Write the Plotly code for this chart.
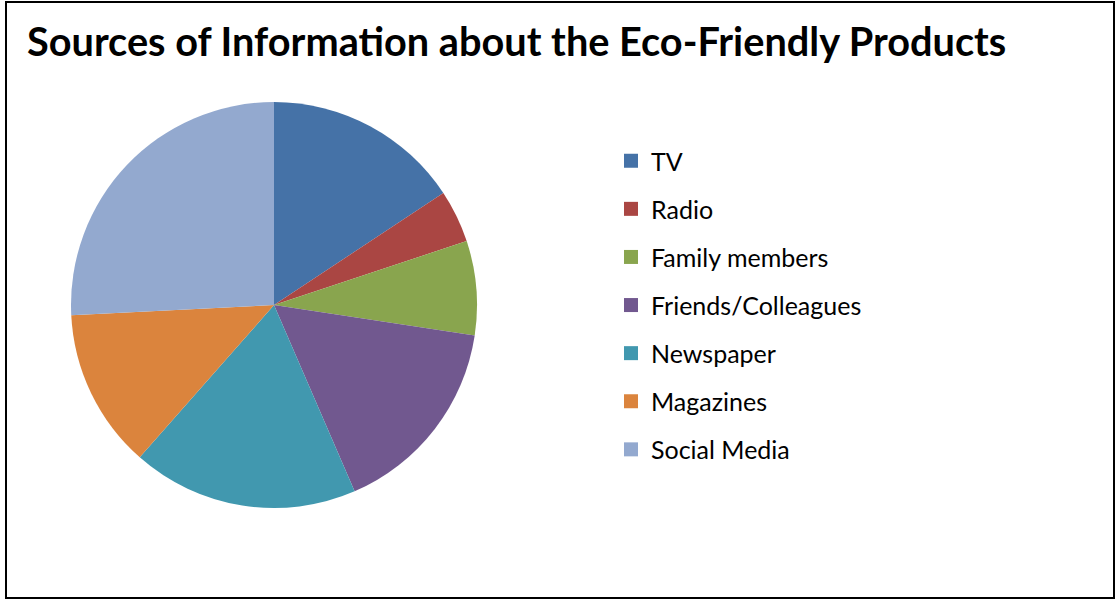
import plotly.graph_objects as go

categories = ["TV", "Radio", "Family members", "Friends/Colleagues", "Newspaper", "Magazines", "Social Media"]
values = [15.7, 4.2, 7.5, 16.1, 18.0, 12.7, 25.8]
colors = ["#4572A7", "#AA4643", "#89A54E", "#71588F", "#4198AF", "#DB843D", "#93A9CF"]
title = "Sources of Information about the Eco-Friendly Products"

W, H = 1117, 599
cx, cy, r = 274, 305, 203

fig = go.Figure()
fig.add_trace(go.Pie(
    labels=categories, values=values, sort=False, direction="clockwise", rotation=0,
    marker=dict(colors=colors, line=dict(width=0)),
    textinfo="none", hoverinfo="label+value", showlegend=False,
    domain=dict(x=[(cx - r) / W, (cx + r) / W], y=[(H - cy - r) / H, (H - cy + r) / H]),
))
for c, col in zip(categories, colors):
    fig.add_trace(go.Scatter(x=[None], y=[None], mode="markers", name=c, legendgroup=c,
                             marker=dict(symbol="square", size=14, color=col)))

fig.update_layout(
    width=W, height=H, margin=dict(l=0, r=0, t=0, b=0),
    paper_bgcolor="white", plot_bgcolor="white",
    xaxis=dict(visible=False), yaxis=dict(visible=False),
    title=dict(text="<b>" + title + "</b>", x=27 / W, xanchor="left", xref="paper",
               y=1 - 42 / H, yanchor="middle", yref="container",
               font=dict(family="Lato", size=39.7, color="black")),
    legend=dict(x=611 / W, xanchor="left", y=1 - 138 / H, yanchor="top",
                font=dict(family="Lato", size=25, color="black"),
                tracegroupgap=12.6, bgcolor="rgba(0,0,0,0)"),
    shapes=[dict(type="rect", xref="paper", yref="paper", x0=6 / W, x1=1114 / W,
                 y0=1 - 598 / H, y1=1 - 2 / H, line=dict(color="black", width=2))],
)
fig.write_html("out.html", config={"displayModeBar": False},
               post_script="document.body.style.margin='0';")
